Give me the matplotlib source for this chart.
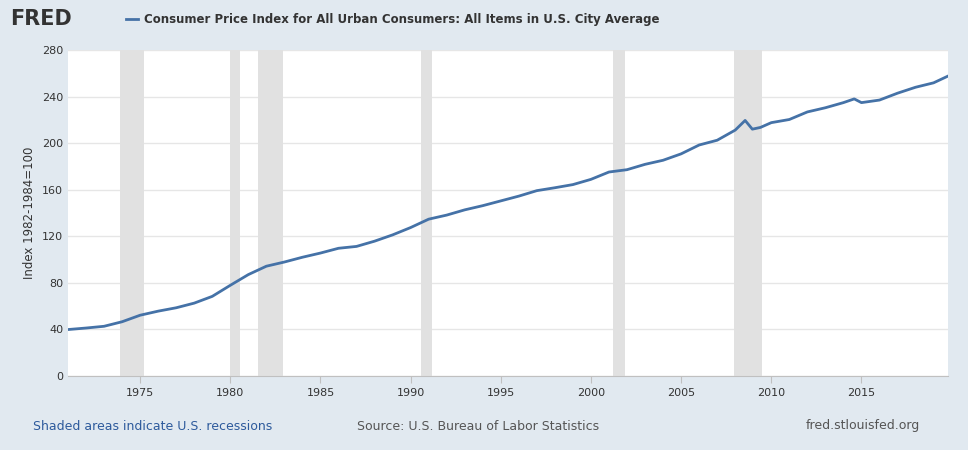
import matplotlib.pyplot as plt

years = [1971, 1972, 1973, 1974, 1975, 1976, 1977, 1978, 1979, 1980, 1981, 1982,
         1983, 1984, 1985, 1986, 1987, 1988, 1989, 1990, 1991, 1992, 1993, 1994,
         1995, 1996, 1997, 1998, 1999, 2000, 2001, 2002, 2003, 2004, 2005, 2006,
         2007, 2008, 2008.55, 2008.95, 2009.4, 2010, 2011, 2012, 2013, 2014,
         2014.6, 2015, 2016, 2017, 2018, 2019, 2019.8]
cpi = [39.9, 41.2, 42.7, 46.6, 52.2, 55.7, 58.6, 62.6, 68.4, 77.9, 87.1, 94.3,
       97.9, 102.0, 105.6, 109.7, 111.3, 115.8, 121.2, 127.5, 134.7, 138.2, 142.7,
       146.3, 150.4, 154.5, 159.2, 161.7, 164.4, 168.9, 175.2, 177.2, 181.8, 185.3,
       190.8, 198.4, 202.5, 211.2, 219.5, 212.0, 213.5, 217.6, 220.3, 226.8, 230.4,
       234.8, 238.0, 234.8, 237.0, 242.9, 248.0, 251.8, 257.6]
recessions = [(1973.9, 1975.2), (1980.0, 1980.55), (1981.55, 1982.9),
              (1990.55, 1991.2), (2001.2, 2001.9), (2007.95, 2009.5)]

bg = '#e1e9f0'
fig = plt.figure(figsize=(9.68, 4.5), dpi=100, facecolor=bg)
ax = fig.add_axes([68/968, 74/450, 880/968, 326/450])
for a, b in recessions:
    ax.axvspan(a, b, color='#e1e1e1', lw=0)
ax.plot(years, cpi, color='#4572a7', lw=2)
ax.set_xlim(1971, 2019.8)
ax.set_ylim(0, 280)
ax.set_yticks(range(0, 281, 40))
ax.set_xticks(range(1975, 2016, 5))
ax.grid(axis='y', color='#e6e6e6', lw=1)
ax.set_axisbelow(True)
for s in ax.spines.values():
    s.set_visible(False)
ax.spines['bottom'].set_visible(True)
ax.spines['bottom'].set_color('#c0c0c0')
ax.tick_params(axis='both', length=0, labelsize=8, colors='#333333')
ax.tick_params(axis='x', length=5, color='#c0c0c0')
ax.set_ylabel('Index 1982-1984=100', fontsize=8.5, color='#333333')

fig.text(10/968, 1 - 19/450, 'FRED', fontsize=15, fontweight='bold', color='#333333', va='center')
fig.add_artist(plt.Line2D([126/968, 138/968], [1 - 19/450] * 2, color='#4572a7', lw=2))
fig.text(144/968, 1 - 19/450, 'Consumer Price Index for All Urban Consumers: All Items in U.S. City Average',
         fontsize=8.5, fontweight='bold', color='#333333', va='center')
fig.text(33/968, 24/450, 'Shaded areas indicate U.S. recessions', fontsize=9, color='#2d5a9c', va='center')
fig.text(357/968, 24/450, 'Source: U.S. Bureau of Labor Statistics', fontsize=9, color='#555555', va='center')
fig.text(920/968, 24/450, 'fred.stlouisfed.org', fontsize=9, color='#555555', va='center', ha='right')

fig.savefig('out.png', dpi=100, facecolor=bg)
